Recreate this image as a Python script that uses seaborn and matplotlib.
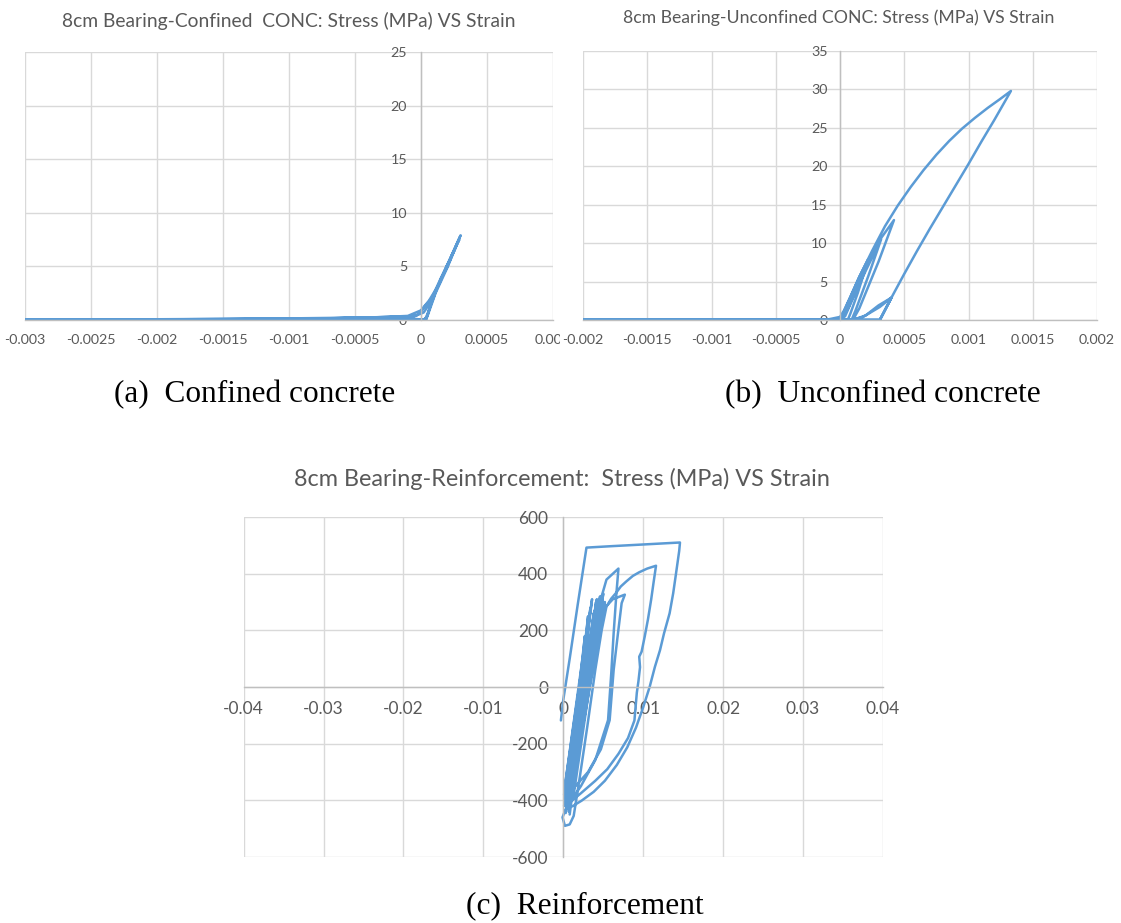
import matplotlib
matplotlib.use("Agg")
import matplotlib.pyplot as plt
from matplotlib.patches import Rectangle
import seaborn as sns

# ---------------- data ----------------
# Confined concrete: strain / stress (MPa) history
conf_strain = [
    -0.003, -0.002, -0.0015, -0.001, -0.0005, -0.0001, -0.00003, 0.0, 0.00003, 0.00008, 0.00015, 0.00022, 0.0003,
    0.00026, 0.00018, 0.0001, 0.00006, 0.00004,
    0.0, -0.0005, -0.001, -0.002, -0.003,
    -0.0015, -0.0007, -0.0002, -0.00005, 0.00002, 0.00007, 0.00014, 0.00024, 0.00029,
    0.00023, 0.00012, 0.00005, 0.00003, -0.0003, -0.0012, -0.0025,
    -0.001, -0.0004, -0.0001, 0.0, 0.00006, 0.00012, 0.0002, 0.00027,
    0.0002, 0.00011, 0.00005, 0.00002, -0.0001, -0.0008, -0.003]
conf_stress = [
    0.0, 0.0, 0.02, 0.08, 0.18, 0.3, 0.45, 0.8, 1.3, 2.0, 3.9, 5.7, 7.9,
    6.8, 4.6, 2.4, 0.9, 0.0,
    0.05, 0.1, 0.06, 0.02, 0.0,
    0.05, 0.15, 0.3, 0.35, 0.7, 1.6, 3.5, 6.2, 7.5,
    5.9, 2.9, 0.6, 0.0, 0.25, 0.12, 0.01,
    0.1, 0.22, 0.38, 0.9, 1.8, 3.0, 5.0, 7.0,
    4.9, 2.5, 0.4, 0.0, 0.2, 0.15, 0.0]

# Unconfined concrete: strain / stress (MPa) history
unconf_strain = [
    -0.002, -0.001, -0.0003, -0.0001, 0.0, 0.00003, 0.00008, 0.00015, 0.00022,
    0.00014, 0.00008, 0.00006,
    0.0, -0.001, 0.0, 0.00004, 0.0001, 0.0002, 0.00032,
    0.00022, 0.00012, 0.00009,
    -0.0005, 0.0, 0.00006, 0.00016, 0.0003, 0.00042,
    0.0003, 0.00015, 0.0001,
    0.0, 0.00005, 0.00015, 0.00025, 0.00035, 0.00045, 0.00055, 0.00065, 0.00075, 0.00085, 0.00095,
    0.00105, 0.00115, 0.00125, 0.00133,
    0.0012, 0.0011, 0.001, 0.0009, 0.0008, 0.0007, 0.0006, 0.0005, 0.0004, 0.00031,
    0.0, -0.002, 0.0, 0.00009, 0.00018, 0.00031, 0.0004,
    0.00031, 0.0001, 0.0002, 0.0003, 0.0004, 0.00031, 0.0, -0.002]
unconf_stress = [
    0.0, 0.0, 0.0, 0.05, 0.4, 1.2, 3.0, 5.6, 7.9,
    3.6, 0.8, 0.0,
    0.0, 0.0, 0.0, 0.5, 2.8, 6.4, 10.5,
    5.7, 1.2, 0.0,
    0.0, 0.1, 1.4, 5.2, 10.2, 13.0,
    7.6, 1.5, 0.0,
    0.0, 1.8, 5.6, 9.0, 12.2, 14.9, 17.3, 19.5, 21.5, 23.3, 24.9,
    26.3, 27.6, 28.8, 29.8,
    26.0, 23.2, 20.3, 17.5, 14.7, 11.9, 9.0, 6.0, 2.9, 0.0,
    0.0, 0.0, 0.0, 0.0, 0.4, 1.7, 2.9,
    0.0, 0.0, 0.6, 1.9, 2.9, 0.0, 0.0, 0.0]

# Reinforcement: strain / stress (MPa) history
reinf_strain = [
    -0.0003, 0.0, 0.0008, 0.0018, 0.0029, 0.006, 0.010, 0.0146,
    0.0145, 0.0143, 0.01405, 0.01375, 0.0133, 0.0126, 0.0121, 0.01146, 0.0108, 0.010, 0.0091,
    0.008, 0.0067, 0.0052, 0.0038, 0.0023, 0.0012, 0.0003,
    -0.0001, 0.0002, 0.0008, 0.0013,
    0.002, 0.003, 0.004, 0.0048, 0.0054, 0.006, 0.0066, 0.0072, 0.0079, 0.0087, 0.0095, 0.0105, 0.0116,
    0.0113, 0.011, 0.0106, 0.0102, 0.0098, 0.0095, 0.0096, 0.0094, 0.0092, 0.0089, 0.0081, 0.0069,
    0.0055, 0.004, 0.0022, 0.0006,
    0.0003, 0.0015, 0.0028, 0.0039, 0.0048, 0.0054, 0.0069,
    0.00665, 0.0063, 0.006, 0.0056, 0.004, 0.0022, 0.0005,
    0.0002, 0.0014, 0.0026, 0.0037, 0.0049, 0.0062, 0.0077,
    0.0073, 0.0068, 0.0063, 0.0058, 0.0047, 0.0031, 0.0012, 0.0001,
    0.0036, 0.0033, 0.0006, 0.0041, 0.0038, 0.0009, 0.0044, 0.0039, 0.0003,
    0.0031, 0.0029, 0.0005, 0.0046, 0.0041, 0.0011, 0.0038, 0.0034, 0.0004,
    0.0027, 0.0025, 0.0002, 0.0034, 0.0031, 0.0008, 0.0042, 0.0037, 0.0013,
    0.005, 0.0045, 0.0007, 0.0047, 0.0043, 0.0001, 0.0039, 0.0036, 0.0010,
    0.0052, 0.0047, 0.0004]
reinf_stress = [
    -118, -45, 100, 290, 492, 497, 503, 510,
    480, 440, 390, 331, 260, 189, 130, 71, 0, -71, -143,
    -213, -275, -331, -370, -401, -420, -431,
    -460, -490, -485, -455,
    -330, -140, 60, 200, 284, 312, 332, 355, 373, 392, 405, 418, 428,
    370, 310, 240, 180, 125, 107, 70, 20, -20, -118, -180, -236,
    -290, -331, -375, -413,
    -380, -200, 50, 230, 320, 379, 418,
    332, 190, 48, -117, -258, -350, -420,
    -400, -210, 20, 190, 270, 310, 326,
    296, 180, 60, -117, -220, -300, -360, -380,
    310, 240, -430, 300, 220, -400, 290, 170, -445,
    250, 190, -390, 320, 200, -340, 260, 150, -410,
    180, 120, -350, 280, 200, -450, 310, 200, -380,
    330, 220, -440, 300, 180, -420, 270, 160, -370,
    300, 230, -400]

# Axis ticks and labels
conf_xticks = [-0.003, -0.0025, -0.002, -0.0015, -0.001, -0.0005, 0, 0.0005, 0.001]
conf_xlabels = ["-0.003", "-0.0025", "-0.002", "-0.0015", "-0.001", "-0.0005", "0", "0.0005", "0.001"]
conf_yticks = [0, 5, 10, 15, 20, 25]

unconf_xticks = [-0.002, -0.0015, -0.001, -0.0005, 0, 0.0005, 0.001, 0.0015, 0.002]
unconf_xlabels = ["-0.002", "-0.0015", "-0.001", "-0.0005", "0", "0.0005", "0.001", "0.0015", "0.002"]
unconf_yticks = [0, 5, 10, 15, 20, 25, 30, 35]

reinf_xticks = [-0.04, -0.03, -0.02, -0.01, 0, 0.01, 0.02, 0.03, 0.04]
reinf_xlabels = ["-0.04", "-0.03", "-0.02", "-0.01", "0", "0.01", "0.02", "0.03", "0.04"]
reinf_yticks = [-600, -400, -200, 0, 200, 400, 600]

titles = ["8cm Bearing-Confined  CONC: Stress (MPa) VS Strain",
          "8cm Bearing-Unconfined CONC: Stress (MPa) VS Strain",
          "8cm Bearing-Reinforcement:  Stress (MPa) VS Strain"]
captions = ["(a)  Confined concrete", "(b)  Unconfined concrete", "(c)  Reinforcement"]

# ---------------- styling ----------------
sns.set_theme(style="white")
plt.rcParams["font.family"] = ["Lato", "DejaVu Sans"]

LINE = "#5B9BD5"
GRID = "#D9D9D9"
AXIS = "#BFBFBF"
TEXT = "#595959"

W, H = 1121, 923
fig = plt.figure(figsize=(W / 100, H / 100), dpi=100)


def frame(left, top, right, bottom):
    return [left / W, 1 - bottom / H, (right - left) / W, (bottom - top) / H]


def style(ax, xticks, xlabels, yticks, fs, xpad, ypad):
    ax.set_xlim(xticks[0], xticks[-1])
    ax.set_ylim(yticks[0], yticks[-1])
    ax.set_xticks(xticks)
    ax.set_xticklabels(xlabels)
    ax.set_yticks(yticks)
    ax.set_yticklabels([f"{v:g}" for v in yticks])
    ax.grid(True, color=GRID, linewidth=1.0)
    ax.set_axisbelow(True)
    for s in ("top", "right"):
        ax.spines[s].set_visible(False)
    for s in ("left", "bottom"):
        ax.spines[s].set_position(("data", 0))
        ax.spines[s].set_color(AXIS)
        ax.spines[s].set_linewidth(1.0)
    ax.tick_params(axis="both", length=0, labelsize=fs, colors=TEXT)
    ax.tick_params(axis="x", pad=xpad)
    ax.tick_params(axis="y", pad=ypad)
    ax.set_xlabel("")
    ax.set_ylabel("")


def draw(ax, x, y):
    sns.lineplot(x=x, y=y, sort=False, estimator=None, ax=ax, color=LINE,
                 linewidth=1.8, solid_joinstyle="round", solid_capstyle="round")


ax1 = fig.add_axes(frame(25, 52, 553, 320))
ax2 = fig.add_axes(frame(583, 51, 1097, 320))
ax3 = fig.add_axes(frame(243.6, 517, 883, 857))
ax2.set_zorder(2)

draw(ax1, conf_strain, conf_stress)
draw(ax2, unconf_strain, unconf_stress)
draw(ax3, reinf_strain, reinf_stress)

style(ax1, conf_xticks, conf_xlabels, conf_yticks, 10.3, 10, 10)
style(ax2, unconf_xticks, unconf_xlabels, unconf_yticks, 10.3, 10, 9)
style(ax3, reinf_xticks, reinf_xlabels, reinf_yticks, 12.5, 10, 11)

# the neighbouring chart hides the end of the first chart's last label
fig.add_artist(Rectangle((560 / W, 1 - 355 / H), (W - 560) / W, 30 / H,
                         transform=fig.transFigure, facecolor="white",
                         edgecolor="none", zorder=1))

renderer = fig.canvas.get_renderer()


def put(text, cx, baseline, width, **kw):
    t = fig.text(cx / W, 1 - baseline / H, text, ha="center", va="baseline", **kw)
    w = t.get_window_extent(renderer).width
    t.set_fontsize(t.get_fontsize() * width / w)
    return t


put(titles[0], 289, 26.5, 452, color=TEXT, fontsize=13)
put(titles[1], 839, 23.3, 429, color=TEXT, fontsize=13)
put(titles[2], 562, 486.5, 536, color=TEXT, fontsize=15)

serif = ["Liberation Serif", "DejaVu Serif"]
put(captions[0], 255, 402, 280, color="black", family=serif, fontsize=22)
put(captions[1], 882.5, 402, 315, color="black", family=serif, fontsize=22)
put(captions[2], 585, 913, 236, color="black", family=serif, fontsize=22)

fig.savefig("out.png", dpi=100, facecolor="white")
